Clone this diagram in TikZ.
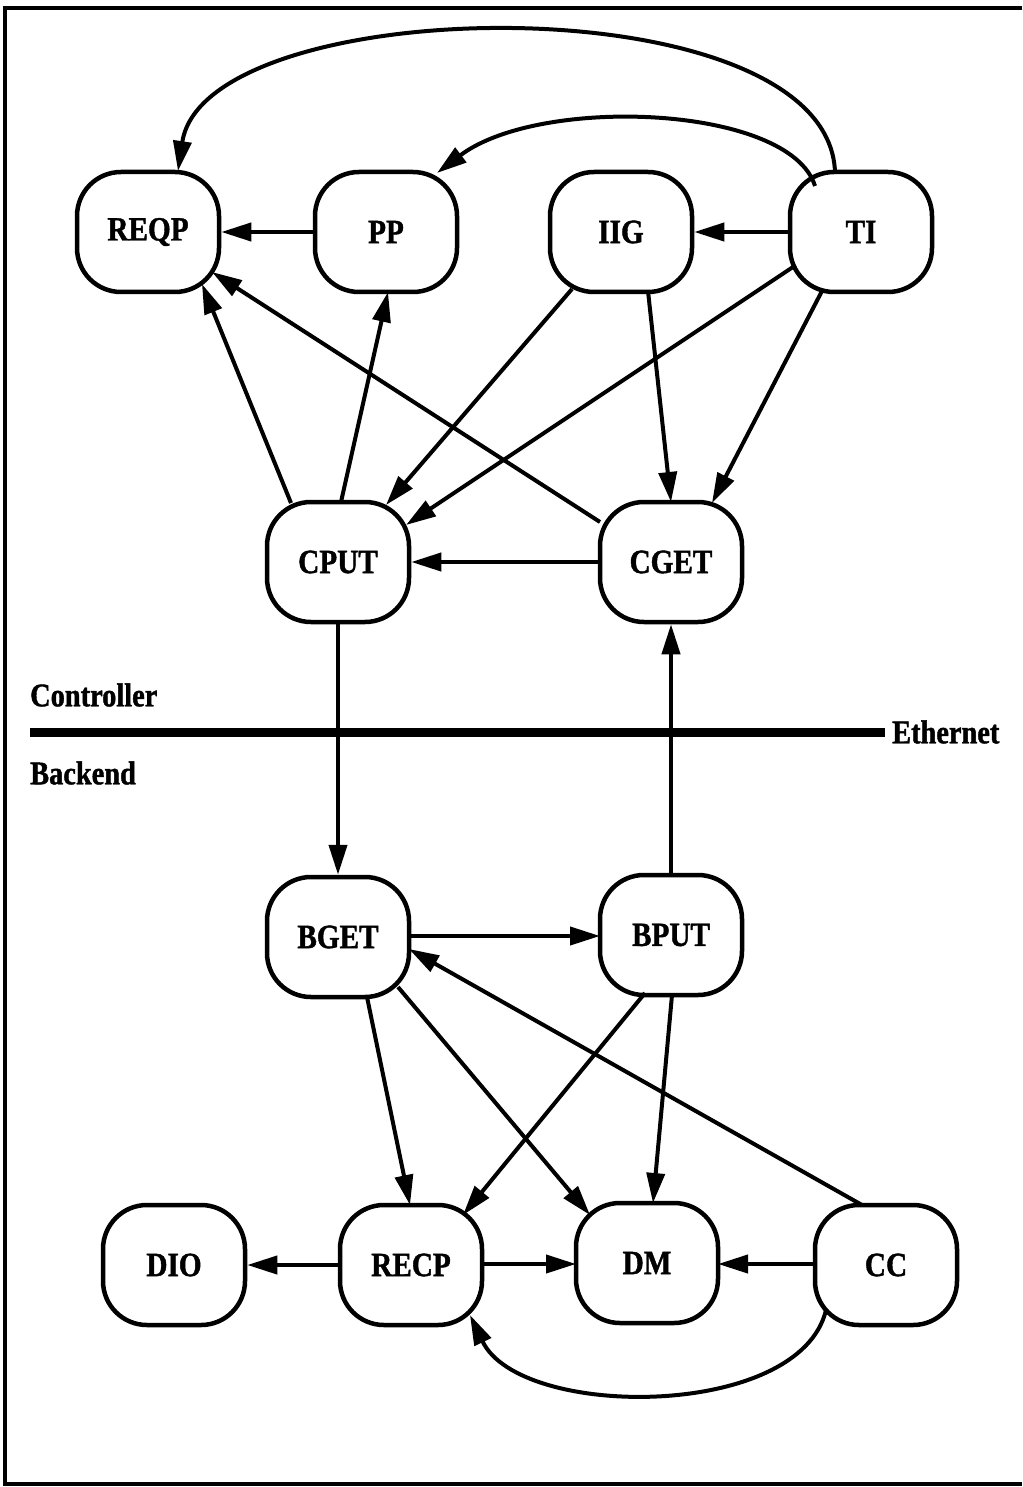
\documentclass[tikz,border=0pt]{standalone}
\usepackage{fontspec}
\setmainfont{Liberation Serif}
\newfontfamily\lblfont[FakeStretch=0.86,FakeBold=1.2]{Liberation Serif}
\usetikzlibrary{arrows.meta,calc}
\begin{document}
\begin{tikzpicture}[x=1pt,y=-1pt,
  proc/.style={draw,line width=4.5pt,rounded corners=44pt,minimum width=142pt,minimum height=120pt,
    inner sep=0pt,font=\lblfont\bfseries\fontsize{34}{34}\selectfont},
  lbl/.style={inner sep=0pt,font=\lblfont\bfseries\fontsize{33}{33}\selectfont},
  edge/.style={line width=4pt,-{Triangle[length=30pt,width=18pt]}},
  frame/.style={line width=4pt}]
\useasboundingbox (0,0) rectangle (1022,1487);
% frame
\coordinate (f1) at (1022,8);
\coordinate (f2) at (5,8);
\coordinate (f3) at (5,1484);
\coordinate (f4) at (1022,1484);
\draw[frame] (f1) -- (f2) -- (f3) -- (f4);
% nodes
\node[proc] (REQP) at (148,232) {REQP};
\node[proc] (PP) at (386,232) {PP};
\node[proc] (IIG) at (621,232) {IIG};
\node[proc] (TI) at (861,232) {TI};
\node[proc] (CPUT) at (338,562) {CPUT};
\node[proc] (CGET) at (671,562) {CGET};
\node[proc] (BGET) at (338,937) {BGET};
\node[proc] (BPUT) at (671,935) {BPUT};
\node[proc] (DIO) at (174,1265) {DIO};
\node[proc] (RECP) at (411,1265) {RECP};
\node[proc] (DM) at (647,1263) {DM};
\node[proc] (CC) at (886,1265) {CC};
% ethernet
\coordinate (e1) at (30,732);
\coordinate (e2) at (885,732);
\draw[line width=9pt] (e1) -- (e2);
\node[lbl,anchor=west] (eth) at (892,732) {Ethernet};
\node[lbl,anchor=west] (ctl) at (30,695) {Controller};
\node[lbl,anchor=west] (bck) at (30,773) {Backend};
% top edges
\draw[edge] ($(TI)+(-26,-60)$) .. controls (828,-20) and (205,-10) .. ($(REQP)+(30,-61)$);
\draw[edge] ($(TI)+(-46,-46)$) .. controls (790,105) and (540,95) .. ($(PP)+(51,-59)$);
\draw[edge] (PP.west) -- (REQP.east);
\draw[edge] (TI.west) -- (IIG.east);
\draw[edge] ($(IIG)+(-49,57)$) -- ($(CPUT)+(48,-57)$);
\draw[edge] ($(TI)+(-68,35)$) -- ($(CPUT)+(68,-37)$);
\draw[edge] ($(TI)+(-39,59)$) -- ($(CGET)+(41,-59)$);
\draw[edge] ($(IIG)+(27,59)$) -- ($(CGET)+(0,-60)$);
\draw[edge] ($(CPUT)+(-47,-59)$) -- ($(REQP)+(54,52)$);
\draw[edge] ($(CPUT)+(3,-60)$) -- ($(PP)+(2,60)$);
\draw[edge] ($(CGET)+(-71,-40)$) -- ($(REQP)+(64,40)$);
\draw[edge] (CGET.west) -- (CPUT.east);
\draw[edge] (CPUT.south) -- (BGET.north);
\draw[edge] (BPUT.north) -- (CGET.south);
% bottom edges
\draw[edge] ($(BGET)+(71,-1)$) -- ($(BPUT)+(-71,1)$);
\draw[edge] ($(BGET)+(29,60)$) -- ($(RECP)+(-1,-60)$);
\draw[edge] ($(BGET)+(60,50)$) -- ($(DM)+(-57,-48)$);
\draw[edge] ($(BPUT)+(-26,58)$) -- ($(RECP)+(52,-50)$);
\draw[edge] ($(BPUT)+(1,60)$) -- ($(DM)+(6,-60)$);
\draw[edge] ($(CC)+(-24,-60)$) -- ($(BGET)+(71,12)$);
\draw[edge] (RECP.west) -- (DIO.east);
\draw[edge] ($(RECP)+(71,-1)$) -- ($(DM)+(-71,1)$);
\draw[edge] ($(CC)+(-71,-1)$) -- ($(DM)+(71,1)$);
\draw[edge] ($(CC)+(-60,45)$) .. controls (800,1420) and (520,1420) .. ($(RECP)+(59,50)$);
\end{tikzpicture}
\end{document}
